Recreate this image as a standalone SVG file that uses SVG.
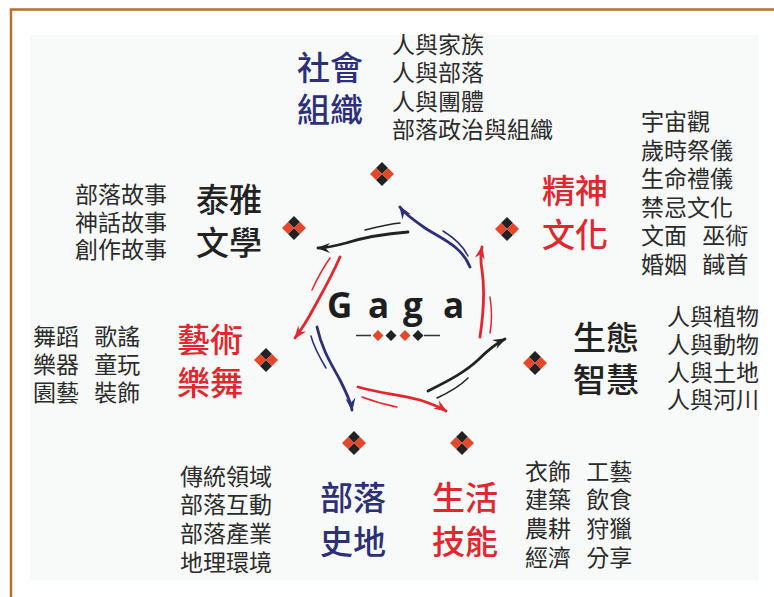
<svg xmlns="http://www.w3.org/2000/svg" width="774" height="597" viewBox="0 0 774 597">
<style>
.t{font-family:"Noto Sans CJK TC","Noto Sans CJK SC",sans-serif;font-size:33px;font-weight:500}
.l{font-family:"Noto Sans CJK TC","Noto Sans CJK SC",sans-serif;font-size:23px;font-weight:400;fill:#2b2b2b;word-spacing:10px}
.navy{fill:#2c3078}.red{fill:#e2262d}.blk{fill:#222}
.a{fill:none;stroke-width:2.8;stroke-linecap:round}
.s{fill:none;stroke-width:1.5;stroke-linecap:round}
</style>
<defs>
<g id="dm">
<path d="M0,-12 L6,-6 L0,0 L-6,-6 Z" fill="#222"/>
<path d="M0,12 L6,6 L0,0 L-6,6 Z" fill="#222"/>
<path d="M-12,0 L-6,-6 L0,0 L-6,6 Z" fill="#e4472a"/>
<path d="M12,0 L6,-6 L0,0 L6,6 Z" fill="#e4472a"/>
</g>
<marker id="mn" markerWidth="15" markerHeight="12" viewBox="-13 -6 15 12" refX="0" refY="0" orient="auto" markerUnits="userSpaceOnUse"><path d="M1.5,0 L-12,-5 L-7.5,0 L-12,5 Z" fill="#2c3078"/></marker>
<marker id="mr" markerWidth="15" markerHeight="12" viewBox="-13 -6 15 12" refX="0" refY="0" orient="auto" markerUnits="userSpaceOnUse"><path d="M1.5,0 L-12,-5 L-7.5,0 L-12,5 Z" fill="#e6262e"/></marker>
<marker id="mk" markerWidth="15" markerHeight="12" viewBox="-13 -6 15 12" refX="0" refY="0" orient="auto" markerUnits="userSpaceOnUse"><path d="M1.5,0 L-12,-5 L-7.5,0 L-12,5 Z" fill="#222"/></marker>
</defs>
<rect width="774" height="597" fill="#fff"/>
<rect x="30" y="35" width="729" height="545" fill="#f8f9f9"/>
<path d="M11,597 V9.5 H774" fill="none" stroke="#b5702b" stroke-width="2.5"/>

<g id="center">
<text x="327 368 403 443" y="318" font-family="'Open Sans','DejaVu Sans',sans-serif" font-size="35" font-weight="700" fill="#1e1e1e">Gaga</text>
<path d="M356,335.5 H371 M424,335.5 H440" stroke="#333" stroke-width="1.3"/>
<path d="M378,330 L383.5,335.5 L378,341 L372.5,335.5 Z M405,330 L410.5,335.5 L405,341 L399.5,335.5 Z" fill="#e4472a"/>
<path d="M391,330 L396.5,335.5 L391,341 L385.5,335.5 Z M418,330 L423.5,335.5 L418,341 L412.5,335.5 Z" fill="#222"/>
</g>

<g id="connectors">
<path class="a" stroke="#2c3078" d="M470,267 C462,246 440,238 425,228 C412,219 404,213 400,207" marker-end="url(#mn)"/>
<path class="s" stroke="#2c3078" d="M443,231 C453,237 463,246 468,256"/>
<path class="a" stroke="#222" d="M408,232 C382,234 362,238 346,243 C335,246 326,248 318,248" marker-end="url(#mk)"/>
<path class="s" stroke="#222" d="M365,230 C377,227 389,224 400,223"/>
<path class="a" stroke="#e6262e" d="M340,257 C330,280 318,300 310,315 C303,327 298,334 295,338" marker-end="url(#mr)"/>
<path class="s" stroke="#e6262e" d="M330,258 C323,268 317,279 312,290"/>
<path class="a" stroke="#2c3078" d="M317,327 C322,350 332,365 340,380 C346,392 351,402 352,410" marker-end="url(#mn)"/>
<path class="s" stroke="#2c3078" d="M311,336 C314,348 320,358 326,368"/>
<path class="a" stroke="#e6262e" d="M358,387 C380,393 400,395 420,400 C432,404 440,407 446,411" marker-end="url(#mr)"/>
<path class="s" stroke="#e6262e" d="M362,397 C375,402 387,405 397,407"/>
<path class="a" stroke="#222" d="M428,391 C450,380 465,372 478,360 C489,349 497,343 505,339" marker-end="url(#mk)"/>
<path class="s" stroke="#222" d="M437,398 C450,392 460,386 468,378"/>
<path class="a" stroke="#e6262e" d="M480,337 C484,310 485,290 482,270 C480,259 481,252 482,247" marker-end="url(#mr)"/>
<path class="s" stroke="#e6262e" d="M490,297 C492,310 492,322 490,333"/>
</g>

<g id="node-social">
<use href="#dm" x="382" y="174"/>
<text class="t navy" x="297" y="80">社會<tspan x="297" y="122">組織</tspan></text>
<text class="l" x="392" y="53">人與家族<tspan x="392" y="81">人與部落</tspan><tspan x="392" y="110">人與團體</tspan><tspan x="392" y="138">部落政治與組織</tspan></text>
</g>

<g id="node-spirit">
<use href="#dm" x="507" y="229"/>
<text class="t red" x="542" y="203">精神<tspan x="542" y="247">文化</tspan></text>
<text class="l" x="641" y="130">宇宙觀<tspan x="641" y="158.5">歲時祭儀</tspan><tspan x="641" y="187">生命禮儀</tspan><tspan x="641" y="215.5">禁忌文化</tspan><tspan x="641" y="244">文面 巫術</tspan><tspan x="641" y="272.5">婚姻 馘首</tspan></text>
</g>

<g id="node-eco">
<use href="#dm" x="535" y="363"/>
<text class="t blk" x="573" y="350">生態<tspan x="573" y="392">智慧</tspan></text>
<text class="l" x="667" y="325">人與植物<tspan x="667" y="353">人與動物</tspan><tspan x="667" y="381">人與土地</tspan><tspan x="667" y="408">人與河川</tspan></text>
</g>

<g id="node-skill">
<use href="#dm" x="462" y="443"/>
<text class="t red" x="432" y="510">生活<tspan x="432" y="554">技能</tspan></text>
<text class="l" x="525" y="480">衣飾 工藝<tspan x="525" y="508">建築 飲食</tspan><tspan x="525" y="537">農耕 狩獵</tspan><tspan x="525" y="566">經濟 分享</tspan></text>
</g>

<g id="node-history">
<use href="#dm" x="354" y="443"/>
<text class="t navy" x="320" y="510">部落<tspan x="320" y="554">史地</tspan></text>
<text class="l" x="180" y="485">傳統領域<tspan x="180" y="513">部落互動</tspan><tspan x="180" y="542">部落產業</tspan><tspan x="180" y="571">地理環境</tspan></text>
</g>

<g id="node-art">
<use href="#dm" x="266" y="360"/>
<text class="t red" x="177" y="352">藝術<tspan x="177" y="395">樂舞</tspan></text>
<text class="l" x="33" y="345">舞蹈 歌謠<tspan x="33" y="373">樂器 童玩</tspan><tspan x="33" y="401">園藝 裝飾</tspan></text>
</g>

<g id="node-literature">
<use href="#dm" x="294" y="228"/>
<text class="t blk" x="196" y="212">泰雅<tspan x="196" y="255">文學</tspan></text>
<text class="l" x="75" y="203">部落故事<tspan x="75" y="231">神話故事</tspan><tspan x="75" y="258">創作故事</tspan></text>
</g>
</svg>
